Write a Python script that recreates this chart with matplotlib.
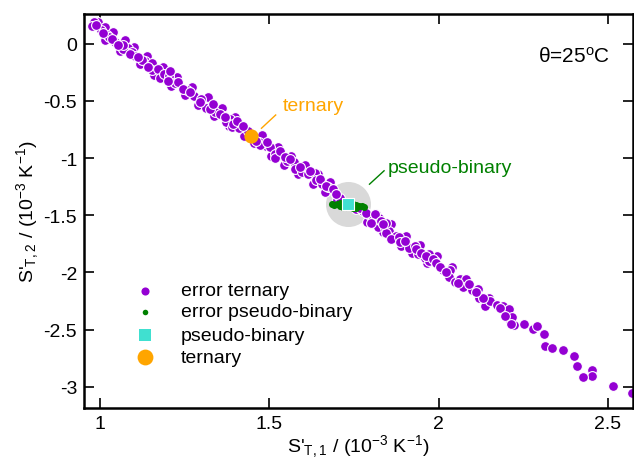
import matplotlib
matplotlib.use("Agg")
import matplotlib.pyplot as plt
from matplotlib.ticker import FuncFormatter

plt.rcParams["font.family"] = ["Liberation Sans", "DejaVu Sans"]
plt.rcParams["mathtext.default"] = "regular"
plt.rcParams["axes.unicode_minus"] = False

# error ternary cloud
err_tern_x = [
    0.982, 0.977, 1.002, 1.022, 1.026, 1.046, 1.064, 1.082, 1.069, 1.095,
    1.105, 1.134, 1.154, 1.155, 1.171, 1.178, 1.189, 1.203, 1.221, 1.232,
    1.256, 1.277, 1.298, 1.313, 1.332, 1.341, 1.366, 1.383, 1.371, 1.389,
    1.410, 1.437, 1.470, 1.489, 1.502, 1.516, 1.393, 1.472, 1.534, 1.516,
    1.553, 1.572, 1.575, 1.598, 1.614, 1.634, 1.639, 1.657, 1.673, 1.693,
    1.708, 1.757, 1.777, 1.791, 1.806, 1.823, 1.821, 1.841, 1.855, 1.875,
    1.846, 1.846, 1.860, 1.882, 1.885, 1.912, 1.929, 1.939, 1.959, 1.971,
    1.988, 1.973, 2.013, 2.035, 2.030, 2.047, 2.064, 2.082, 2.072, 2.099,
    2.116, 2.119, 2.136, 2.150, 2.153, 2.173, 2.190, 2.198, 2.209, 2.204,
    2.224, 2.251, 2.089, 2.131, 2.216, 2.214, 2.280, 2.290, 2.311, 2.313,
    2.334, 2.367, 2.401, 2.409, 2.453, 2.453, 2.427, 2.516, 2.571,
    1.069, 1.088, 1.123, 1.142, 1.206, 1.201, 1.246, 1.265, 1.295, 1.324,
    1.354, 1.334, 1.369, 1.404, 1.423, 1.462, 1.492, 1.531, 1.546, 1.560,
    1.590, 1.619, 1.649, 1.669, 1.688, 1.698, 1.747, 1.767, 1.787, 1.811,
    1.831, 1.801, 1.836, 1.900, 1.934, 1.949, 1.964, 1.983, 1.993, 2.003,
    2.021, 2.056, 2.109, 2.180, 2.195, 0.988, 1.009, 1.035, 1.053, 1.112,
]
err_tern_y = [
    0.190, 0.155, 0.117, 0.079, 0.055, 0.015, -0.029, -0.038, -0.044, -0.068,
    -0.103, -0.155, -0.167, -0.234, -0.219, -0.298, -0.261, -0.278, -0.345, -0.331,
    -0.401, -0.456, -0.482, -0.559, -0.564, -0.594, -0.629, -0.658, -0.687, -0.725,
    -0.737, -0.761, -0.862, -0.892, -0.901, -0.965, -0.702, -0.886, -0.974, -1.003,
    -1.024, -1.038, -1.096, -1.125, -1.140, -1.132, -1.193, -1.228, -1.257, -1.301,
    -1.345, -1.447, -1.462, -1.491, -1.520, -1.520, -1.599, -1.608, -1.638, -1.682,
    -1.652, -1.564, -1.711, -1.687, -1.734, -1.783, -1.769, -1.842, -1.871, -1.901,
    -1.901, -1.842, -1.980, -1.980, -2.038, -2.085, -2.061, -2.055, -2.129, -2.155,
    -2.143, -2.225, -2.296, -2.222, -2.252, -2.281, -2.296, -2.354, -2.318, -2.397,
    -2.456, -2.450, -2.105, -2.222, -2.389, -2.450, -2.494, -2.471, -2.538, -2.646,
    -2.661, -2.675, -2.734, -2.816, -2.857, -2.901, -2.915, -2.997, -3.055,
    -0.015, -0.088, -0.146, -0.204, -0.237, -0.322, -0.395, -0.424, -0.511, -0.570,
    -0.614, -0.526, -0.643, -0.675, -0.717, -0.848, -0.862, -0.936, -0.994, -1.009,
    -1.082, -1.111, -1.184, -1.243, -1.272, -1.316, -1.418, -1.432, -1.476, -1.491,
    -1.550, -1.564, -1.579, -1.725, -1.798, -1.827, -1.857, -1.886, -1.915, -1.956,
    -2.000, -2.096, -2.167, -2.307, -2.377, 0.167, 0.096, 0.044, -0.009, -0.114,
]

# points along the upper and lower edge of the dense band
edge_x = [
    0.995, 1.015, 1.040, 1.075, 1.100, 1.140, 1.185, 1.228, 1.272, 1.318,
    1.360, 1.400, 1.480, 1.525, 1.565, 1.605, 1.645, 1.680, 1.815, 1.860,
    1.905, 1.945, 1.995, 2.040,
    1.015, 1.058, 1.118, 1.160, 1.210, 1.250, 1.290, 1.338, 1.380, 1.425,
    1.455, 1.505, 1.545, 1.585, 1.628, 1.665, 1.700, 1.790, 1.835, 1.890,
    1.920, 1.965,
]
edge_y = [
    0.19, 0.15, 0.10, 0.03, -0.03, -0.11, -0.20, -0.29, -0.38, -0.47,
    -0.56, -0.64, -0.80, -0.90, -0.98, -1.06, -1.14, -1.21, -1.49, -1.58,
    -1.68, -1.76, -1.86, -1.95,
    0.03, -0.06, -0.18, -0.27, -0.37, -0.45, -0.54, -0.63, -0.72, -0.81,
    -0.87, -0.98, -1.06, -1.14, -1.23, -1.30, -1.37, -1.56, -1.65, -1.77,
    -1.83, -1.92,
]

# error pseudo-binary cluster
err_pb_x = [1.684, 1.690, 1.699, 1.708, 1.708, 1.717, 1.717, 1.726, 1.726,
            1.737, 1.737, 1.746, 1.746, 1.755, 1.755, 1.764, 1.773, 1.779]
err_pb_y = [-1.404, -1.412, -1.404, -1.395, -1.421, -1.404, -1.430, -1.395, -1.430,
            -1.395, -1.430, -1.404, -1.439, -1.412, -1.439, -1.421, -1.421, -1.430]

pb_x, pb_y = [1.733], [-1.397]
tern_x, tern_y = [1.4475], [-0.804]

x_ticks = [1, 1.5, 2, 2.5]
y_ticks = [0, -0.5, -1, -1.5, -2, -2.5, -3]

fig = plt.figure(figsize=(6.34, 4.64), dpi=100)
ax = fig.add_axes([84 / 634, 1 - 409 / 464, 549 / 634, 394 / 464])

# grey highlight behind the pseudo-binary point
ax.scatter(pb_x, pb_y, s=1050, color="#d9d9d9", lw=0, zorder=1)
ax.scatter(edge_x, edge_y, s=50, color="#9400d3",
           edgecolors="white", linewidths=0.8, zorder=2)
ax.scatter(err_tern_x, err_tern_y, s=50, color="#9400d3",
           edgecolors="white", linewidths=0.8, zorder=2)
ax.scatter(err_pb_x, err_pb_y, s=26, color="#008000", lw=0, zorder=3)
ax.scatter(pb_x, pb_y, s=70, marker="s", color="#40e0d0",
           edgecolors="white", linewidths=0.8, zorder=4)
ax.scatter(tern_x, tern_y, s=105, color="#ffa500", lw=0, zorder=4)

# annotations
ax.plot([1.477, 1.519], [-0.739, -0.623], color="#ffa500", lw=1)
ax.text(1.540, -0.544, "ternary", color="#ffa500", fontsize=14, va="center")
ax.plot([1.796, 1.839], [-1.228, -1.111], color="#008000", lw=1)
ax.text(1.850, -1.079, "pseudo-binary", color="#008000", fontsize=14, va="center")

ax.text(0.893, 0.893, r"$\theta$=25$^{o}$C", transform=ax.transAxes,
        fontsize=15, ha="center", va="center")

# legend drawn by hand
leg_rows = [0.297, 0.244, 0.185, 0.129]
leg_labels = ["error ternary", "error pseudo-binary", "pseudo-binary", "ternary"]
leg_style = [
    dict(s=34, marker="o", color="#9400d3"),
    dict(s=16, marker="o", color="#008000"),
    dict(s=70, marker="s", color="#40e0d0"),
    dict(s=130, marker="o", color="#ffa500"),
]
for yy, lab, st in zip(leg_rows, leg_labels, leg_style):
    ax.scatter([0.111], [yy], transform=ax.transAxes, lw=0, clip_on=False, **st)
    ax.text(0.177, yy, lab, transform=ax.transAxes, fontsize=14, va="center")

ax.set_xlim(0.953, 2.574)
ax.set_ylim(-3.185, 0.26)
ax.set_xticks(x_ticks)
ax.set_yticks(y_ticks)
fmt = FuncFormatter(lambda v, p: "%g" % v)
ax.xaxis.set_major_formatter(fmt)
ax.yaxis.set_major_formatter(fmt)
ax.tick_params(direction="in", length=7, width=1.2, labelsize=14,
               top=True, right=True, pad=5)
for sp in ax.spines.values():
    sp.set_linewidth(1.8)

ax.set_xlabel(r"S'$_{T,1}$ / (10$^{-3}$ K$^{-1}$)", fontsize=14, labelpad=0)
ax.set_ylabel(r"S'$_{T,2}$ / (10$^{-3}$ K$^{-1}$)", fontsize=14, labelpad=2)

fig.savefig("out.png", dpi=100)
